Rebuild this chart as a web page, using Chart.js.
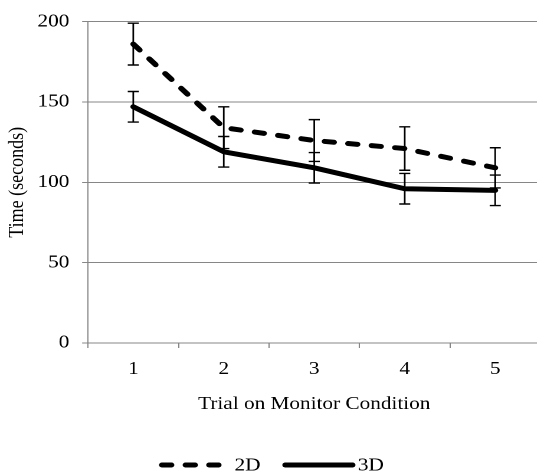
<!DOCTYPE html>
<html><head><meta charset="utf-8">
<script src="https://cdn.jsdelivr.net/npm/chart.js@4.4.1/dist/chart.umd.min.js"></script>
<style>
html,body{margin:0;padding:0;background:#fff;overflow:hidden;width:537px;height:476px;}
#wrap{position:absolute;left:0;top:0;width:460px;height:476px;transform:scaleX(1.18);transform-origin:0 0;}
</style></head><body>
<div id="wrap"><canvas id="c" width="460" height="476"></canvas></div>
<script>
const categories = ['1', '2', '3', '4', '5'];
const series2D = [186, 134, 126, 121, 109];
const series3D = [147, 119, 109, 96, 95];
const err2D = [13, 13, 13, 13.5, 12.5];
const err3D = [9.5, 9.5, 9.5, 9.5, 9.5];
const yTicks = [0, 50, 100, 150, 200];
const seriesLabels = ['2D', '3D'];
const xTitle = 'Trial on Monitor Condition';
const yTitle = 'Time (seconds)';

const errorsByDataset = [err2D, err3D];
const GRAY = '#868686';

Chart.defaults.font.family = '"Liberation Serif", "Times New Roman", serif';
Chart.defaults.font.size = 18;
Chart.defaults.color = '#000';

const errorBars = {
  id: 'errorBars',
  afterDatasetsDraw(chart) {
    const {ctx, scales: {x, y}} = chart;
    ctx.save();
    ctx.strokeStyle = '#000';
    ctx.lineWidth = 1.4;
    ctx.setLineDash([]);
    chart.data.datasets.forEach((ds, di) => {
      const errs = errorsByDataset[di];
      ds.data.forEach((v, i) => {
        const px = x.getPixelForValue(i);
        const top = y.getPixelForValue(v + errs[i]);
        const bot = y.getPixelForValue(v - errs[i]);
        const hw = 4.7;
        ctx.beginPath();
        ctx.moveTo(px, top); ctx.lineTo(px, bot);
        ctx.moveTo(px - hw, top); ctx.lineTo(px + hw, top);
        ctx.moveTo(px - hw, bot); ctx.lineTo(px + hw, bot);
        ctx.stroke();
      });
    });
    ctx.restore();
  }
};

const customLegend = {
  id: 'customLegend',
  afterDraw(chart) {
    const ctx = chart.ctx;
    ctx.save();
    ctx.font = '18px "Liberation Serif", "Times New Roman", serif';
    const sample = 62, gap = 2, itemGap = 18.5, center = 230, yPos = 465;
    const items = chart.data.datasets.map(ds => ({ds, w: ctx.measureText(ds.label).width}));
    const total = items.reduce((s, it) => s + sample + gap + it.w, 0) + itemGap * (items.length - 1);
    let xPos = center - total / 2;
    items.forEach(it => {
      const ds = it.ds;
      ctx.beginPath();
      ctx.setLineDash(ds.borderDash || []);
      ctx.lineCap = 'round';
      ctx.lineWidth = ds.borderWidth;
      ctx.strokeStyle = ds.borderColor;
      ctx.moveTo(xPos + 2.5, yPos);
      ctx.lineTo(xPos + sample - 2.5, yPos);
      ctx.stroke();
      ctx.setLineDash([]);
      ctx.fillStyle = '#000';
      ctx.textBaseline = 'middle';
      ctx.textAlign = 'left';
      ctx.fillText(ds.label, xPos + sample + gap, yPos + 1);
      xPos += sample + gap + it.w + itemGap;
    });
    ctx.restore();
  }
};

new Chart(document.getElementById('c'), {
  type: 'line',
  data: {
    labels: categories,
    datasets: [
      {label: seriesLabels[0], data: series2D, borderColor: '#000', backgroundColor: '#000', borderWidth: 5,
       borderDash: [8, 12], borderCapStyle: 'round', borderJoinStyle: 'round', pointRadius: 0, tension: 0, fill: false},
      {label: seriesLabels[1], data: series3D, borderColor: '#000', backgroundColor: '#000', borderWidth: 5,
       borderCapStyle: 'round', borderJoinStyle: 'round', pointRadius: 0, tension: 0, fill: false}
    ]
  },
  options: {
    responsive: false,
    animation: false,
    devicePixelRatio: 2,
    layout: {padding: {top: 21, right: 2, bottom: 50, left: 0}},
    plugins: {legend: {display: false}, tooltip: {enabled: false}},
    scales: {
      x: {
        type: 'category',
        offset: true,
        grid: {offset: true, drawOnChartArea: false, drawTicks: true, tickLength: 5, color: GRAY, lineWidth: 1},
        border: {color: GRAY, width: 1},
        ticks: {padding: 10.7, color: '#000', font: {size: 18}},
        title: {display: true, text: xTitle, color: '#000', font: {size: 18}, padding: {top: 4, bottom: 10.7}},
        afterFit(s) { s.height = 83; }
      },
      y: {
        min: 0, max: 200,
        afterBuildTicks(s) { s.ticks = yTicks.map(v => ({value: v})); },
        grid: {color: GRAY, tickLength: 5, drawTicks: true, lineWidth: 1},
        border: {color: GRAY, width: 1},
        ticks: {padding: 10.8, color: '#000', font: {size: 18}},
        title: {display: true, text: yTitle, color: '#000', font: {size: 18}, padding: {top: 4, bottom: 0}},
        afterFit(s) { s.width = 74.6; }
      }
    }
  },
  plugins: [errorBars, customLegend]
});
</script>
</body></html>
